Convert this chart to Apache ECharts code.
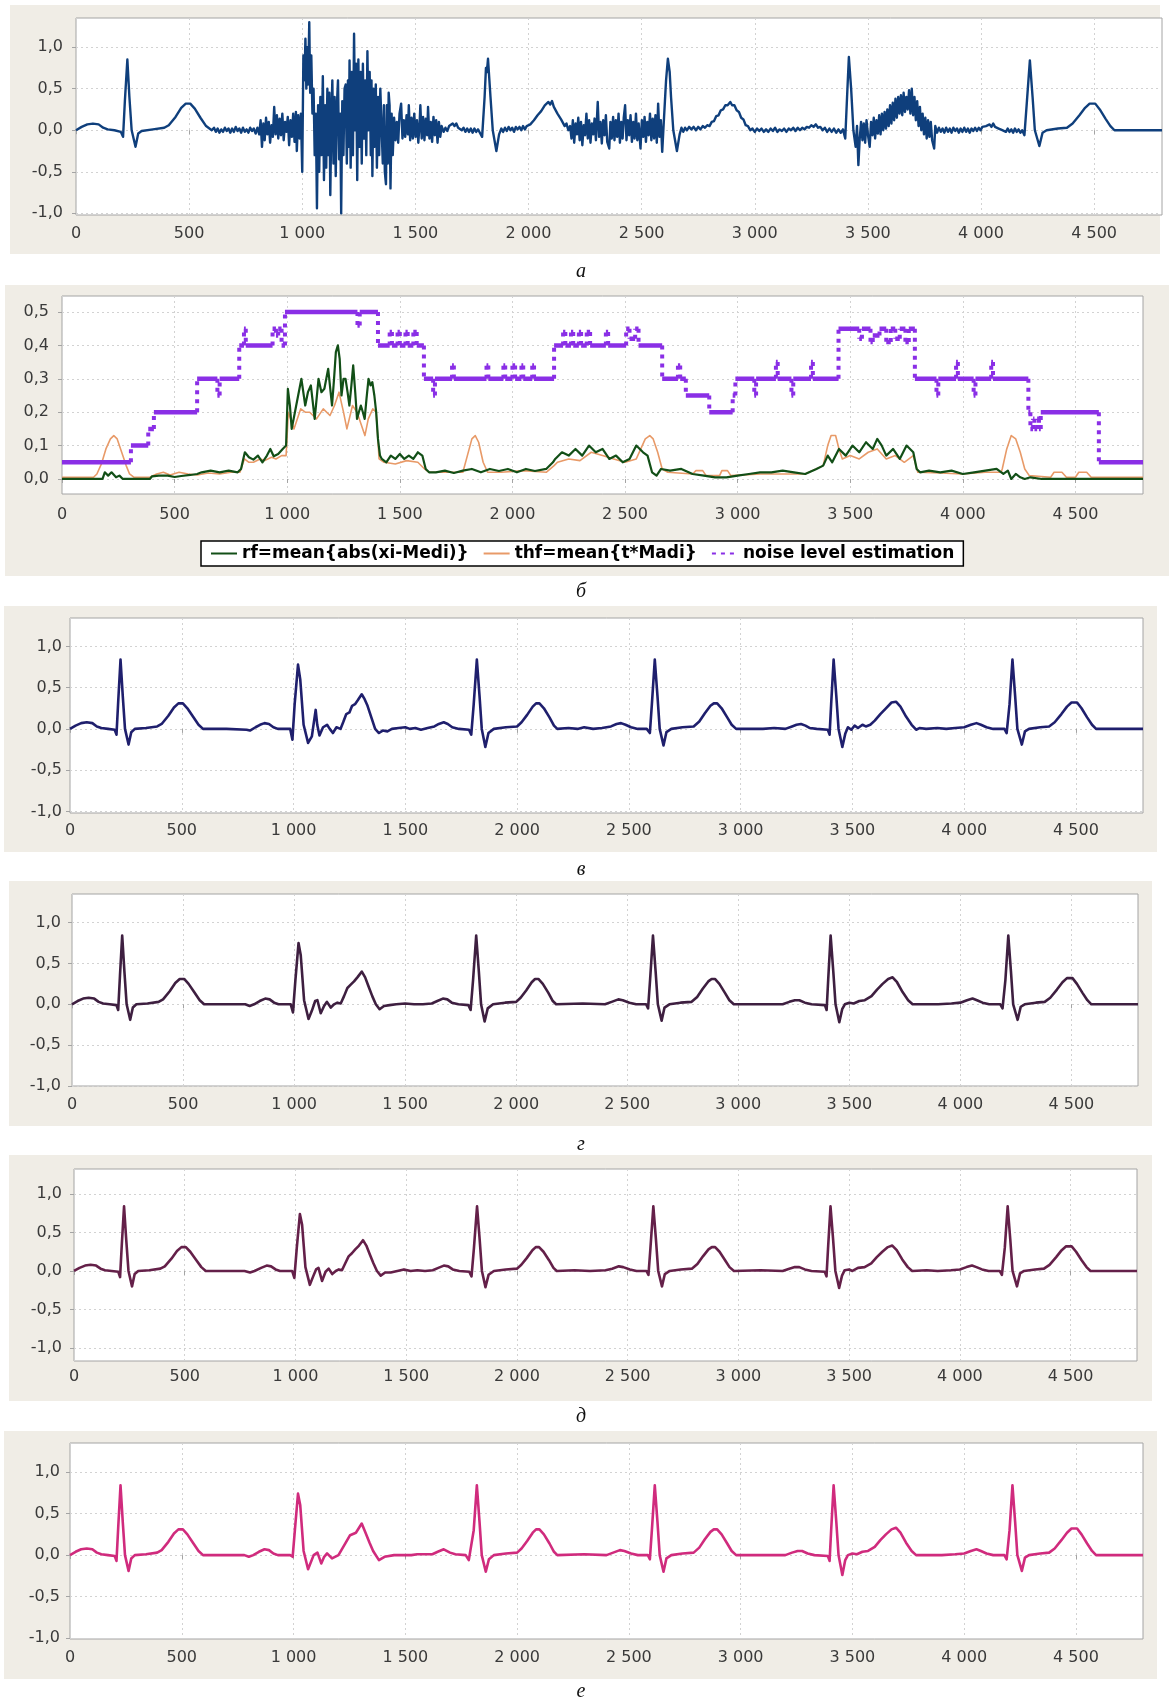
<!DOCTYPE html>
<html>
<head>
<meta charset="utf-8">
<script src="https://cdn.jsdelivr.net/npm/echarts@6/dist/echarts.min.js"></script>
<style>
  html, body { margin: 0; padding: 0; background: #ffffff; }
  #chart { width: 1169px; height: 1704px; }
</style>
</head>
<body>
<div id="chart"></div>
<script>
// ---------- data ----------
const xTickValues = [0, 500, 1000, 1500, 2000, 2500, 3000, 3500, 4000, 4500];
const yTicksSignal = [-1, -0.5, 0, 0.5, 1];
const yTicksLevel = [0, 0.1, 0.2, 0.3, 0.4, 0.5];
const captions = ['а', 'б', 'в', 'г', 'д', 'е'];
const legendNames = ['rf=mean{abs(xi-Medi)}', 'thf=mean{t*Madi}', 'noise level estimation'];

// noisy input signal
const signalA = [
  [0,0],[25,0.04],[50,0.07],[75,0.08],[100,0.07],[120,0.03],[140,0.01],[170,0.0],[198,-0.02],[208,-0.08],[216,0.35],[227,0.85],[236,0.4],[246,0.0],[263,-0.2],[275,-0.04],[290,-0.01],[340,0.01],[390,0.03],[410,0.06],[440,0.16],[465,0.27],[485,0.32],[505,0.32],[525,0.26],[550,0.15],[575,0.05],[600,0.0],
  [610,0.03],[618,-0.02],[626,0.02],[634,-0.03],[642,0.01],[650,-0.02],[658,0.03],[666,-0.01],[674,0.02],[682,-0.03],[690,0.02],[698,-0.02],[706,0.04],[714,-0.01],[722,0.02],[730,-0.03],[738,0.03],[746,-0.02],[754,0.01],[762,-0.03],[770,0.03],[778,-0.01],[786,0.02],[794,-0.04],[802,0.03],[810,-0.05],
  [816,0.12],[822,-0.2],[828,0.08],[834,-0.12],[840,0.15],[846,-0.05],[852,0.1],[858,-0.15],[864,0.06],[870,-0.08],[876,0.28],[882,-0.05],[888,0.18],[894,-0.1],[900,0.14],[906,-0.06],[912,0.2],[918,-0.12],[924,0.1],[930,-0.02],[936,0.16],[942,-0.18],[948,0.12],[954,-0.08],[960,0.2],[966,-0.14],[972,0.22],[976,-0.25],[982,0.18],[988,-0.1],[994,0.2],
  [1000,-0.5],[1005,0.9],[1010,0.6],[1014,1.1],[1018,0.5],[1022,1.0],[1026,0.55],[1031,1.3],[1035,0.45],[1040,0.9],[1045,0.2],[1050,0.5],[1055,-0.3],[1060,0.2],
  [1065,-0.94],[1070,0.3],[1075,-0.5],[1080,0.4],[1085,-0.3],[1091,0.65],[1096,-0.6],[1101,0.3],[1106,-0.45],[1111,0.5],[1116,-0.3],[1120,0.45],[1124,-0.78],[1129,0.2],[1133,0.6],[1138,-0.4],[1143,0.4],[1148,-0.55],[1153,0.3],[1158,0.6],[1163,-0.35],[1168,0.2],[1172,-1.0],[1177,0.35],[1182,-0.3],[1187,0.5],[1192,0.55],[1197,-0.4],[1202,0.6],[1206,-0.2],[1209,0.84],[1214,-0.45],[1219,0.7],[1224,-0.3],[1229,1.16],[1234,0.0],[1238,0.8],[1243,-0.6],[1248,0.85],[1253,-0.2],[1258,0.7],[1263,-0.4],[1268,0.8],[1273,-0.1],[1278,0.6],[1283,-0.3],[1288,0.95],[1293,0.0],[1298,0.7],[1303,-0.3],[1306,0.6],[1310,-0.55],[1315,0.5],[1320,-0.2],[1325,0.55],[1330,-0.45],[1335,0.4],[1340,-0.3],[1345,0.5],[1352,0.5],[1356,-0.4],[1361,0.3],[1365,-0.5],[1370,-0.65],[1374,0.3],[1378,-0.4],[1382,0.45],[1386,0.3],[1390,-0.7],[1395,0.2],[1400,-0.3],
  [1406,0.15],[1412,-0.12],[1418,0.1],[1424,-0.15],[1430,0.2],[1437,0.32],[1443,-0.1],[1449,0.12],[1455,-0.08],[1461,0.18],[1467,-0.05],[1471,0.3],[1477,-0.12],[1483,0.15],[1489,-0.1],[1495,0.2],[1501,-0.08],[1507,0.12],[1513,-0.15],[1519,0.1],[1522,0.3],[1528,-0.1],[1534,0.16],[1540,-0.12],[1546,0.14],[1552,-0.06],[1556,0.28],[1562,-0.1],[1568,0.1],[1574,-0.14],[1580,0.16],[1586,-0.06],[1592,0.12],[1598,-0.15],[1604,0.1],[1610,-0.08],[1616,0.05],
  [1625,-0.02],[1633,0.03],[1641,-0.01],[1649,0.05],[1657,0.03],[1665,0.08],[1673,0.05],[1681,0.08],[1689,0.03],[1697,0.05],[1705,0.0],[1713,0.03],[1721,-0.02],[1729,0.02],[1737,-0.02],[1745,0.02],[1753,-0.03],[1761,0.02],[1769,-0.02],[1777,0.01],[1785,-0.03],
  [1795,-0.08],[1806,0.4],[1812,0.75],[1816,0.7],[1821,0.86],[1832,0.4],[1842,0.0],[1858,-0.25],[1870,-0.05],[1880,0.02],[1888,-0.02],
  [1896,0.03],[1904,-0.01],[1912,0.04],[1920,0.0],[1928,0.03],[1936,-0.02],[1944,0.04],[1952,0.01],[1960,0.04],[1968,0.0],[1976,0.05],[1984,0.01],[1992,0.05],[2000,0.03],[2008,0.07],[2016,0.06],[2024,0.12],[2032,0.12],[2040,0.18],[2048,0.17],[2056,0.23],[2064,0.24],[2072,0.3],[2080,0.29],[2088,0.34],[2096,0.31],[2104,0.35],[2112,0.28],[2120,0.29],[2128,0.2],[2136,0.22],[2144,0.13],[2152,0.14],[2160,0.05],[2168,0.08],[2176,0.0],[2184,0.05],
  [2190,-0.1],[2196,0.12],[2202,-0.15],[2208,0.08],[2214,-0.05],[2220,0.15],[2226,-0.12],[2232,0.1],[2238,-0.18],[2244,0.06],[2250,-0.06],[2256,0.2],[2262,-0.1],[2268,0.12],[2274,-0.15],[2280,0.08],[2286,-0.05],[2292,0.14],[2298,-0.12],[2306,0.34],[2312,-0.08],[2318,0.1],[2324,-0.16],[2330,0.12],[2336,-0.06],[2342,0.18],[2348,-0.14],[2357,-0.22],[2362,0.1],[2368,-0.1],[2374,0.16],[2380,-0.12],[2386,0.12],[2392,-0.08],[2398,0.2],[2404,-0.15],[2410,0.1],[2416,-0.1],[2421,0.15],[2427,0.3],[2433,-0.12],[2439,0.12],[2445,-0.06],[2451,0.18],[2457,-0.14],[2463,0.1],[2469,-0.1],[2475,0.2],[2481,-0.12],[2487,0.08],[2495,-0.22],[2501,0.12],[2507,-0.08],[2513,0.16],[2519,-0.14],[2525,0.1],[2531,-0.06],[2537,0.2],[2543,-0.12],[2549,0.14],[2555,-0.1],[2561,0.18],[2567,-0.15],[2573,0.32],[2579,-0.08],[2585,0.12],[2591,-0.26],[2597,0.05],
  [2603,0.35],[2608,0.6],[2616,0.86],[2624,0.7],[2630,0.4],[2640,0.0],[2656,-0.25],[2668,-0.05],[2676,0.03],[2684,-0.02],
  [2692,0.03],[2700,0.0],[2710,0.04],[2720,0.01],[2730,0.04],[2740,0.0],[2750,0.04],[2760,0.01],[2770,0.05],[2780,0.03],[2790,0.06],[2800,0.05],[2810,0.1],[2820,0.11],[2830,0.17],[2840,0.18],[2850,0.24],[2860,0.25],[2870,0.3],[2880,0.3],[2892,0.34],[2900,0.3],[2910,0.3],[2920,0.24],[2930,0.22],[2940,0.15],[2950,0.13],[2960,0.06],[2970,0.05],[2980,0.0],[2990,0.02],[3000,-0.02],[3010,0.02],[3020,-0.01],[3030,0.02],[3040,-0.02],[3050,0.01],[3060,-0.02],[3070,0.02],[3080,-0.01],[3090,0.03],[3100,-0.02],[3110,0.01],[3120,-0.01],[3130,0.02],[3140,-0.02],[3150,0.02],[3160,0.0],[3170,0.03],[3180,-0.01],[3190,0.03],[3200,0.0],[3210,0.03],[3220,0.01],[3230,0.04],[3240,0.03],[3250,0.06],[3260,0.04],[3270,0.07],[3280,0.03],[3290,0.04],[3300,0.0],[3310,0.03],[3320,-0.02],[3330,0.02],[3340,-0.02],[3350,0.02],[3360,-0.03],[3370,0.01],[3380,-0.03],[3390,0.01],
  [3400,-0.1],[3408,0.4],[3416,0.88],[3426,0.5],[3436,0.0],[3446,-0.2],[3452,0.05],[3458,-0.42],[3464,-0.1],[3470,0.1],
  [3476,-0.12],[3482,0.08],[3488,-0.15],[3494,0.12],[3500,-0.05],[3508,-0.2],[3514,0.1],[3520,-0.06],[3526,0.15],[3532,-0.1],[3538,0.12],[3544,-0.04],[3550,0.18],[3556,-0.05],[3562,0.2],[3568,0.0],[3574,0.22],[3580,0.02],[3586,0.25],[3592,0.05],[3598,0.3],[3604,0.08],[3610,0.33],[3616,0.12],[3622,0.38],[3628,0.15],[3634,0.4],[3640,0.2],[3646,0.42],[3652,0.18],[3658,0.45],[3664,0.22],[3670,0.4],[3676,0.25],[3682,0.48],[3688,0.2],[3694,0.5],[3700,0.18],[3706,0.4],[3712,0.12],[3718,0.35],[3724,0.05],[3730,0.28],[3736,0.0],[3742,0.2],[3748,-0.05],[3754,0.15],[3760,-0.1],[3766,0.12],[3772,-0.08],[3778,0.1],[3784,-0.12],[3793,-0.22],[3798,0.05],
  [3806,-0.03],[3814,0.03],[3822,-0.02],[3830,0.02],[3838,-0.03],[3846,0.03],[3854,-0.02],[3862,0.02],[3870,-0.03],[3878,0.03],[3886,-0.01],[3894,0.02],[3902,-0.03],[3910,0.02],[3918,-0.02],[3926,0.03],[3934,-0.02],[3942,0.02],[3950,-0.03],[3958,0.02],[3966,-0.01],[3974,0.03],[3982,-0.01],[3990,0.03],[3998,0.0],[4006,0.04],[4014,0.02],[4022,0.05],[4030,0.03],[4038,0.07],[4046,0.04],[4054,0.08],[4062,0.04],[4070,0.06],[4078,0.02],[4086,0.04],[4094,0.0],[4102,0.02],[4110,-0.02],[4118,0.02],[4126,-0.02],[4134,0.01],[4142,-0.03],[4150,0.02],[4158,-0.02],[4166,0.01],[4174,-0.03],[4182,0.0],
  [4192,-0.06],[4203,0.35],[4216,0.84],[4228,0.4],[4238,0.0],[4258,-0.19],[4272,-0.03],[4290,0.0],[4340,0.02],[4380,0.03],[4405,0.08],[4435,0.18],[4460,0.27],[4480,0.32],[4505,0.32],[4525,0.25],[4550,0.14],[4572,0.05],[4590,0.0],[4800,0.0]
];

// rf = mean{abs(xi - Medi)}
const rfValues = [
  [0,0.0],[180,0.0],[190,0.02],[205,0.01],[220,0.02],[240,0.005],[255,0.01],[270,0.0],[390,0.0],[400,0.008],[430,0.01],[470,0.01],[500,0.006],[530,0.009],[570,0.012],[600,0.015],[620,0.02],[660,0.025],[700,0.02],[740,0.025],[780,0.02],[795,0.03],[805,0.06],[812,0.08],[830,0.065],[850,0.058],[870,0.07],[890,0.05],[910,0.07],[925,0.09],[940,0.068],[960,0.075],[980,0.09],[995,0.1],
  [1003,0.27],[1012,0.22],[1020,0.15],[1040,0.22],[1063,0.3],[1080,0.22],[1092,0.26],[1105,0.28],[1122,0.18],[1139,0.3],[1152,0.26],[1165,0.27],[1182,0.33],[1199,0.22],[1208,0.3],[1216,0.38],[1225,0.4],[1233,0.36],[1241,0.25],[1250,0.3],[1259,0.3],[1268,0.26],[1276,0.22],[1285,0.28],[1293,0.34],[1302,0.26],[1310,0.18],[1318,0.2],[1327,0.22],[1336,0.2],[1344,0.18],[1352,0.24],[1361,0.3],[1370,0.28],[1378,0.29],[1387,0.25],[1395,0.2],[1403,0.12],[1412,0.07],
  [1420,0.06],[1440,0.05],[1460,0.07],[1480,0.06],[1500,0.075],[1520,0.06],[1540,0.07],[1560,0.06],[1580,0.08],[1600,0.07],[1615,0.03],[1630,0.02],[1660,0.02],[1700,0.025],[1740,0.018],[1780,0.025],[1820,0.03],[1860,0.02],[1900,0.03],[1940,0.024],[1980,0.03],[2020,0.02],[2060,0.03],[2100,0.024],[2150,0.03],[2180,0.05],
  [2190,0.06],[2220,0.08],[2250,0.07],[2280,0.09],[2310,0.07],[2340,0.1],[2370,0.08],[2400,0.09],[2430,0.06],[2460,0.07],[2490,0.05],[2520,0.06],[2550,0.1],[2580,0.08],[2600,0.07],[2620,0.02],[2640,0.01],[2660,0.03],[2700,0.025],[2750,0.03],[2800,0.015],[2850,0.01],[2900,0.005],[2950,0.005],[3000,0.01],[3050,0.015],[3100,0.02],[3150,0.02],[3200,0.025],[3250,0.02],[3300,0.015],[3350,0.03],[3380,0.04],[3400,0.07],[3420,0.05],[3450,0.09],[3480,0.07],[3510,0.1],[3540,0.08],[3570,0.11],[3600,0.09],[3620,0.12],[3640,0.1],[3660,0.07],[3690,0.09],[3720,0.06],[3750,0.1],[3780,0.08],[3795,0.03],[3810,0.02],[3850,0.025],[3900,0.02],[3950,0.025],[4000,0.015],[4050,0.02],[4100,0.025],[4150,0.03],[4180,0.015],[4200,0.025],[4215,0.0],[4235,0.015],[4255,0.005],[4275,0.0],[4300,0.005],[4350,0.0],[4800,0.0]
];

// thf = mean{t*Madi}
const thfValues = [
  [0,0.005],[140,0.005],[155,0.015],[175,0.045],[195,0.09],[215,0.12],[230,0.13],[245,0.12],[265,0.08],[285,0.04],[300,0.015],[320,0.005],[390,0.005],[420,0.015],[450,0.02],[480,0.012],[520,0.02],[560,0.015],[600,0.012],[650,0.018],[700,0.015],[750,0.02],[790,0.02],[810,0.06],[830,0.05],[850,0.05],[880,0.06],[900,0.055],[930,0.065],[950,0.06],[975,0.07],[995,0.07],
  [1005,0.2],[1030,0.15],[1060,0.21],[1080,0.2],[1100,0.2],[1130,0.18],[1160,0.21],[1190,0.19],[1210,0.22],[1230,0.26],[1250,0.2],[1265,0.15],[1290,0.22],[1310,0.2],[1330,0.16],[1345,0.13],[1360,0.18],[1380,0.21],[1395,0.2],[1408,0.06],
  [1430,0.05],[1480,0.045],[1530,0.055],[1580,0.05],[1610,0.03],[1630,0.02],[1700,0.02],[1780,0.02],[1800,0.07],[1820,0.12],[1835,0.13],[1850,0.11],[1870,0.05],[1890,0.02],[1950,0.02],[2050,0.025],[2150,0.02],[2185,0.04],
  [2200,0.05],[2250,0.06],[2300,0.055],[2350,0.08],[2400,0.07],[2450,0.06],[2500,0.05],[2550,0.06],[2570,0.09],[2590,0.12],[2610,0.13],[2625,0.12],[2645,0.08],[2665,0.03],[2690,0.02],[2800,0.015],[2815,0.025],[2845,0.025],[2860,0.01],[2920,0.01],[2930,0.025],[2955,0.025],[2970,0.01],[3100,0.015],[3300,0.015],[3380,0.04],[3400,0.1],[3415,0.13],[3435,0.13],[3450,0.09],[3465,0.06],[3500,0.07],[3540,0.06],[3580,0.08],[3620,0.09],[3660,0.06],[3700,0.07],[3740,0.05],[3780,0.07],[3800,0.02],[3900,0.018],[4000,0.015],[4100,0.02],[4170,0.02],[4175,0.03],[4195,0.09],[4215,0.13],[4235,0.12],[4255,0.08],[4275,0.03],[4295,0.01],[4390,0.005],[4405,0.02],[4440,0.02],[4460,0.005],[4500,0.005],[4515,0.02],[4550,0.02],[4570,0.005],[4800,0.005]
];

// noise level estimation: [from, to, level]
const noiseLevels = [
  [0,306,0.05],[306,383,0.1],[383,408,0.15],[408,600,0.2],[600,690,0.3],[690,700,0.25],[700,787,0.3],
  [787,808,0.4],[808,816,0.45],[816,935,0.4],[935,950,0.45],[950,960,0.43],[960,975,0.45],[975,990,0.4],
  [990,1312,0.5],[1312,1322,0.46],[1322,1403,0.5],
  [1403,1455,0.4],[1455,1465,0.44],[1465,1490,0.4],[1490,1500,0.44],[1500,1525,0.4],[1525,1535,0.44],[1535,1560,0.4],[1560,1575,0.44],[1575,1607,0.4],
  [1607,1648,0.3],[1648,1656,0.25],[1656,1732,0.3],[1732,1740,0.34],[1740,1885,0.3],[1885,1893,0.34],[1893,1960,0.3],[1960,1968,0.34],[1968,2000,0.3],[2000,2012,0.34],[2012,2040,0.3],[2040,2048,0.34],[2048,2088,0.3],[2088,2096,0.34],[2096,2185,0.3],
  [2185,2225,0.4],[2225,2235,0.44],[2235,2260,0.4],[2260,2270,0.44],[2270,2295,0.4],[2295,2305,0.44],[2305,2330,0.4],[2330,2345,0.44],[2345,2415,0.4],[2415,2425,0.44],[2425,2505,0.4],[2505,2520,0.45],[2520,2545,0.42],[2545,2560,0.45],[2560,2665,0.4],
  [2665,2735,0.3],[2735,2745,0.34],[2745,2770,0.3],[2770,2874,0.25],[2874,2978,0.2],[2978,2990,0.25],[2990,3074,0.3],[3074,3082,0.25],[3082,3170,0.3],[3170,3178,0.35],[3178,3239,0.3],[3239,3247,0.25],[3247,3326,0.3],[3326,3334,0.35],[3334,3448,0.3],
  [3448,3540,0.45],[3540,3552,0.42],[3552,3590,0.45],[3590,3600,0.41],[3600,3630,0.43],[3630,3660,0.45],[3660,3680,0.41],[3680,3700,0.45],[3700,3720,0.42],[3720,3745,0.45],[3745,3760,0.41],[3760,3787,0.45],
  [3787,3883,0.3],[3883,3891,0.25],[3891,3970,0.3],[3970,3978,0.35],[3978,4048,0.3],[4048,4056,0.25],[4056,4126,0.3],[4126,4134,0.35],[4134,4291,0.3],
  [4291,4300,0.2],[4300,4312,0.15],[4312,4318,0.18],[4318,4330,0.15],[4330,4338,0.18],[4338,4346,0.15],[4346,4604,0.2],
  [4604,4800,0.05]
];

// filtered signals
const filteredB = [
  [0,0],[25,0.04],[50,0.07],[75,0.08],[100,0.07],[120,0.03],[140,0.01],[170,0.0],[200,-0.01],[208,-0.07],[216,0.35],[226,0.84],[236,0.4],[246,0.0],[262,-0.19],[274,-0.04],[290,0.0],[340,0.01],[390,0.03],[410,0.06],[440,0.16],[465,0.26],[485,0.31],[505,0.31],[525,0.25],[550,0.15],[575,0.05],[595,0.0],
  [700,0.0],[790,-0.01],[805,-0.02],[830,0.02],[850,0.05],[870,0.07],[890,0.06],[910,0.02],[930,0.0],[985,0.0],[995,-0.13],[1005,0.3],[1020,0.78],[1030,0.6],[1045,0.05],[1065,-0.17],[1082,-0.09],[1092,0.1],[1099,0.23],[1106,0.05],[1116,-0.08],[1132,0.02],[1150,0.05],[1162,0.0],[1176,-0.05],[1192,0.02],[1210,0.0],[1222,0.08],[1236,0.18],[1250,0.2],[1262,0.28],[1275,0.3],[1288,0.35],[1305,0.42],[1318,0.36],[1331,0.28],[1348,0.14],[1365,0.0],[1382,-0.05],[1399,-0.02],[1420,-0.03],[1440,0.0],[1470,0.01],[1500,0.02],[1520,0.0],[1545,0.01],[1570,-0.01],[1600,0.01],[1630,0.03],[1650,0.06],[1672,0.08],[1690,0.06],[1710,0.02],[1740,0.0],[1785,-0.01],[1795,-0.07],[1806,0.3],[1820,0.84],[1832,0.4],[1842,0.0],[1858,-0.22],[1872,-0.05],[1896,0.0],[1950,0.02],[2000,0.03],[2020,0.08],[2045,0.17],[2070,0.27],[2085,0.31],[2100,0.31],[2120,0.25],[2145,0.14],[2165,0.04],[2180,0.0],
  [2230,0.01],[2270,0.0],[2300,0.02],[2340,0.0],[2380,0.01],[2420,0.03],[2445,0.06],[2465,0.07],[2485,0.05],[2510,0.02],[2540,0.0],[2580,0.0],[2594,-0.05],[2603,0.3],[2616,0.84],[2628,0.4],[2638,0.0],[2655,-0.2],[2668,-0.04],[2690,0.0],[2740,0.02],[2790,0.03],[2815,0.09],[2840,0.19],[2865,0.28],[2880,0.31],[2895,0.31],[2915,0.25],[2940,0.14],[2960,0.05],[2980,0.0],
  [3100,0.0],[3150,0.01],[3200,0.0],[3230,0.03],[3250,0.05],[3270,0.06],[3290,0.04],[3310,0.01],[3340,0.0],[3390,-0.01],[3398,-0.07],[3405,0.3],[3416,0.84],[3428,0.4],[3438,0.0],[3455,-0.22],[3468,-0.06],[3480,0.02],[3495,-0.01],[3510,0.04],[3525,0.01],[3545,0.05],[3560,0.03],[3580,0.05],[3600,0.1],[3625,0.18],[3650,0.25],[3675,0.32],[3695,0.33],[3715,0.27],[3740,0.15],[3765,0.05],[3785,-0.01],[3800,0.01],[3830,0.0],[3880,0.01],[3920,0.0],[3960,0.01],[4000,0.02],[4030,0.05],[4055,0.07],[4075,0.05],[4100,0.02],[4130,0.0],[4180,0.0],[4190,-0.05],[4203,0.3],[4216,0.84],[4228,0.4],[4238,0.0],[4258,-0.19],[4272,-0.03],[4290,0.0],[4340,0.02],[4380,0.03],[4405,0.08],[4435,0.18],[4460,0.27],[4480,0.32],[4505,0.32],[4525,0.25],[4550,0.14],[4572,0.05],[4590,0.0],[4800,0.0]
];

const filteredC = [
  [0,0],[25,0.04],[50,0.07],[75,0.08],[100,0.07],[120,0.03],[140,0.01],[170,0.0],[200,-0.01],[208,-0.07],[216,0.35],[226,0.84],[236,0.4],[246,0.0],[262,-0.19],[274,-0.04],[290,0.0],[340,0.01],[390,0.03],[410,0.06],[440,0.16],[465,0.26],[485,0.31],[505,0.31],[525,0.25],[550,0.15],[575,0.05],[595,0.0],
  [780,0.0],[800,-0.02],[820,0.0],[845,0.04],[870,0.07],[890,0.06],[910,0.02],[930,0.0],[985,0.0],[995,-0.1],[1006,0.3],[1020,0.75],[1030,0.6],[1045,0.05],[1065,-0.18],[1080,-0.08],[1095,0.04],[1105,0.05],[1120,-0.11],[1135,-0.02],[1148,0.03],[1165,-0.04],[1180,0.0],[1195,0.02],[1210,0.01],[1225,0.1],[1240,0.2],[1255,0.24],[1270,0.28],[1285,0.33],[1305,0.4],[1320,0.33],[1335,0.22],[1352,0.1],[1368,0.0],[1385,-0.06],[1405,-0.02],[1430,-0.01],[1460,0.0],[1500,0.01],[1540,0.0],[1580,0.0],[1620,0.01],[1645,0.04],[1670,0.07],[1690,0.06],[1710,0.02],[1740,0.0],[1785,-0.01],[1795,-0.07],[1806,0.3],[1820,0.84],[1832,0.4],[1842,0.0],[1858,-0.21],[1872,-0.05],[1896,0.0],[1950,0.02],[2000,0.03],[2020,0.08],[2045,0.17],[2070,0.27],[2085,0.31],[2100,0.31],[2120,0.25],[2145,0.14],[2165,0.04],[2180,0.0],
  [2300,0.01],[2400,0.0],[2430,0.03],[2460,0.06],[2480,0.05],[2510,0.02],[2540,0.0],[2585,0.0],[2594,-0.05],[2603,0.3],[2616,0.84],[2628,0.4],[2638,0.0],[2655,-0.2],[2668,-0.04],[2690,0.0],[2740,0.02],[2790,0.03],[2815,0.09],[2840,0.19],[2865,0.28],[2880,0.31],[2895,0.31],[2915,0.25],[2940,0.14],[2960,0.05],[2980,0.0],
  [3200,0.0],[3230,0.03],[3255,0.05],[3275,0.05],[3300,0.02],[3330,0.0],[3390,-0.01],[3398,-0.07],[3405,0.3],[3416,0.84],[3428,0.4],[3438,0.0],[3455,-0.22],[3468,-0.06],[3480,0.0],[3500,0.02],[3520,0.01],[3545,0.04],[3570,0.05],[3600,0.1],[3625,0.18],[3650,0.25],[3675,0.31],[3695,0.33],[3715,0.27],[3740,0.15],[3765,0.05],[3785,0.0],[3900,0.0],[3960,0.01],[4000,0.02],[4030,0.05],[4055,0.07],[4075,0.05],[4100,0.02],[4130,0.0],[4180,0.0],[4190,-0.05],[4203,0.3],[4216,0.84],[4228,0.4],[4238,0.0],[4258,-0.19],[4272,-0.03],[4290,0.0],[4340,0.02],[4380,0.03],[4405,0.08],[4435,0.18],[4460,0.27],[4480,0.32],[4505,0.32],[4525,0.25],[4550,0.14],[4572,0.05],[4590,0.0],[4800,0.0]
];

const filteredD = [
  [0,0],[25,0.04],[50,0.07],[75,0.08],[100,0.07],[120,0.03],[140,0.01],[170,0.0],[200,-0.01],[208,-0.08],[216,0.35],[226,0.84],[236,0.4],[246,0.0],[262,-0.2],[274,-0.04],[290,0.0],[340,0.01],[390,0.03],[410,0.06],[440,0.16],[465,0.26],[485,0.31],[505,0.31],[525,0.25],[550,0.15],[575,0.05],[595,0.0],
  [770,0.0],[795,-0.02],[815,0.0],[845,0.04],[870,0.07],[890,0.06],[910,0.02],[930,0.0],[985,0.0],[995,-0.09],[1006,0.3],[1020,0.74],[1030,0.6],[1045,0.05],[1065,-0.18],[1080,-0.07],[1093,0.02],[1104,0.04],[1120,-0.13],[1136,-0.01],[1150,0.03],[1166,-0.04],[1182,0.0],[1196,0.02],[1210,0.01],[1225,0.1],[1240,0.19],[1255,0.23],[1270,0.28],[1287,0.33],[1305,0.4],[1320,0.33],[1335,0.22],[1352,0.1],[1368,0.0],[1385,-0.06],[1405,-0.02],[1430,-0.02],[1460,0.0],[1490,0.02],[1520,0.0],[1550,0.01],[1585,0.0],[1620,0.01],[1645,0.04],[1670,0.07],[1690,0.06],[1710,0.02],[1740,0.0],[1785,-0.01],[1795,-0.07],[1806,0.3],[1820,0.84],[1832,0.4],[1842,0.0],[1858,-0.21],[1872,-0.05],[1896,0.0],[1950,0.02],[2000,0.03],[2020,0.08],[2045,0.17],[2070,0.27],[2085,0.31],[2100,0.31],[2120,0.25],[2145,0.14],[2165,0.04],[2180,0.0],
  [2260,0.01],[2330,0.0],[2400,0.01],[2430,0.03],[2460,0.06],[2480,0.05],[2510,0.02],[2540,0.0],[2585,0.0],[2594,-0.05],[2603,0.3],[2616,0.84],[2628,0.4],[2638,0.0],[2655,-0.2],[2668,-0.04],[2690,0.0],[2740,0.02],[2790,0.03],[2815,0.09],[2840,0.19],[2865,0.28],[2880,0.31],[2895,0.31],[2915,0.25],[2940,0.14],[2960,0.05],[2980,0.0],
  [3100,0.01],[3200,0.0],[3230,0.03],[3255,0.05],[3275,0.05],[3300,0.02],[3330,0.0],[3390,-0.01],[3398,-0.07],[3405,0.3],[3416,0.84],[3428,0.4],[3438,0.0],[3455,-0.22],[3468,-0.06],[3480,0.01],[3500,0.02],[3515,0.0],[3540,0.04],[3570,0.05],[3600,0.1],[3625,0.18],[3650,0.25],[3675,0.31],[3695,0.33],[3715,0.27],[3740,0.15],[3765,0.05],[3785,0.0],[3850,0.01],[3900,0.0],[3960,0.01],[4000,0.02],[4030,0.05],[4055,0.07],[4075,0.05],[4100,0.02],[4130,0.0],[4180,0.0],[4190,-0.05],[4203,0.3],[4216,0.84],[4228,0.4],[4238,0.0],[4258,-0.2],[4272,-0.03],[4290,0.0],[4340,0.02],[4380,0.03],[4405,0.08],[4435,0.18],[4460,0.27],[4480,0.32],[4505,0.32],[4525,0.25],[4550,0.14],[4572,0.05],[4590,0.0],[4800,0.0]
];

const filteredE = [
  [0,0],[25,0.04],[50,0.07],[75,0.08],[100,0.07],[120,0.03],[140,0.01],[170,0.0],[200,-0.01],[208,-0.07],[216,0.35],[226,0.84],[236,0.4],[246,0.0],[262,-0.19],[274,-0.04],[290,0.0],[340,0.01],[390,0.03],[410,0.06],[440,0.16],[465,0.26],[485,0.31],[505,0.31],[525,0.25],[550,0.15],[575,0.05],[595,0.0],
  [780,0.0],[800,-0.02],[820,0.0],[845,0.04],[870,0.07],[890,0.06],[910,0.02],[930,0.0],[985,0.0],[996,-0.02],[1006,0.3],[1020,0.74],[1030,0.6],[1045,0.05],[1065,-0.17],[1090,0.0],[1107,0.03],[1124,-0.1],[1137,-0.02],[1150,0.02],[1172,-0.04],[1201,0.0],[1227,0.12],[1253,0.24],[1279,0.27],[1305,0.38],[1322,0.27],[1340,0.15],[1356,0.05],[1382,-0.06],[1407,-0.02],[1450,0.0],[1527,0.0],[1553,0.01],[1621,0.01],[1645,0.04],[1672,0.07],[1700,0.03],[1724,0.01],[1770,0.0],[1784,-0.06],[1806,0.3],[1820,0.84],[1832,0.4],[1842,0.0],[1860,-0.2],[1874,-0.05],[1896,0.0],[1950,0.02],[2000,0.03],[2020,0.08],[2045,0.17],[2070,0.27],[2085,0.31],[2100,0.31],[2120,0.25],[2145,0.14],[2165,0.04],[2180,0.0],
  [2300,0.01],[2400,0.0],[2430,0.03],[2460,0.06],[2480,0.05],[2510,0.02],[2540,0.0],[2585,0.0],[2594,-0.05],[2603,0.3],[2616,0.84],[2628,0.4],[2638,0.0],[2655,-0.2],[2668,-0.04],[2690,0.0],[2740,0.02],[2790,0.03],[2815,0.09],[2840,0.19],[2865,0.28],[2880,0.31],[2895,0.31],[2915,0.25],[2940,0.14],[2960,0.05],[2980,0.0],
  [3200,0.0],[3230,0.03],[3255,0.05],[3275,0.05],[3300,0.02],[3330,0.0],[3390,-0.01],[3398,-0.07],[3405,0.3],[3416,0.84],[3428,0.4],[3438,0.0],[3455,-0.24],[3468,-0.06],[3480,0.0],[3500,0.02],[3520,0.01],[3545,0.04],[3570,0.05],[3600,0.1],[3625,0.18],[3650,0.25],[3675,0.31],[3695,0.33],[3715,0.27],[3740,0.15],[3765,0.05],[3785,0.0],[3900,0.0],[3960,0.01],[4000,0.02],[4030,0.05],[4055,0.07],[4075,0.05],[4100,0.02],[4130,0.0],[4180,0.0],[4190,-0.05],[4203,0.3],[4216,0.84],[4228,0.4],[4238,0.0],[4258,-0.19],[4272,-0.03],[4290,0.0],[4340,0.02],[4380,0.03],[4405,0.08],[4435,0.18],[4460,0.27],[4480,0.32],[4505,0.32],[4525,0.25],[4550,0.14],[4572,0.05],[4590,0.0],[4800,0.0]
];

// ---------- layout ----------
const X_MAX = 4800;
const FONT = 'DejaVu Sans';
const panels = [
  { bg: [10, 5, 1150, 249],   grid: { left: 76, top: 18,   width: 1086, height: 197 }, yMin: -1.02,  yMax: 1.35,  ticks: yTicksSignal, yMargin: 13, xMargin: 11, capY: 272 },
  { bg: [5, 285, 1164, 291],  grid: { left: 62, top: 296,  width: 1081, height: 198 }, yMin: -0.045, yMax: 0.548, ticks: yTicksLevel,  yMargin: 13, xMargin: 13, capY: 592 },
  { bg: [4, 606, 1153, 246],  grid: { left: 70, top: 618,  width: 1073, height: 195 }, yMin: -1.02,  yMax: 1.345, ticks: yTicksSignal, yMargin: 8,  xMargin: 10, capY: 870 },
  { bg: [9, 881, 1143, 245],  grid: { left: 72, top: 894,  width: 1066, height: 192 }, yMin: -1.0,   yMax: 1.35,  ticks: yTicksSignal, yMargin: 11, xMargin: 11, capY: 1145 },
  { bg: [9, 1155, 1143, 246], grid: { left: 74, top: 1169, width: 1063, height: 192 }, yMin: -1.17,  yMax: 1.325, ticks: yTicksSignal, yMargin: 12, xMargin: 8,  capY: 1417 },
  { bg: [4, 1431, 1153, 248], grid: { left: 70, top: 1443, width: 1073, height: 196 }, yMin: -1.01,  yMax: 1.35,  ticks: yTicksSignal, yMargin: 10, xMargin: 11, capY: 1692 }
];

const fmtX = v => v >= 1000 ? Math.floor(v / 1000) + ' ' + String(v % 1000).padStart(3, '0') : String(v);
const fmtY = v => v.toFixed(1).replace('.', ',');

const labelStyle = { fontFamily: FONT, fontSize: 16, color: '#3a3a3a' };
const splitStyle = { show: true, lineStyle: { color: '#d2d2d2', type: [2, 3], width: 1 } };

const grids = panels.map(p => Object.assign({
  show: true, backgroundColor: '#ffffff', borderColor: '#a4a4a4', borderWidth: 1, containLabel: false
}, p.grid));

const xAxes = panels.map((p, i) => ({
  type: 'value', gridIndex: i, min: 0, max: X_MAX, interval: 500,
  axisLine: { show: false },
  axisTick: { show: true, length: 4, lineStyle: { color: '#a4a4a4' }, customValues: xTickValues },
  axisLabel: Object.assign({ customValues: xTickValues, margin: p.xMargin, formatter: fmtX }, labelStyle),
  splitLine: splitStyle
}));

const yAxes = panels.map((p, i) => ({
  type: 'value', gridIndex: i, min: p.yMin, max: p.yMax,
  axisLine: { show: false },
  axisTick: { show: true, length: 4, lineStyle: { color: '#a4a4a4' }, customValues: p.ticks },
  axisLabel: Object.assign({ customValues: p.ticks, margin: p.yMargin, formatter: fmtY }, labelStyle),
  splitLine: splitStyle
}));

function lineSeries(name, data, idx, color, width, extra) {
  return Object.assign({
    name: name, type: 'line', data: data, xAxisIndex: idx, yAxisIndex: idx,
    symbol: 'none', showSymbol: false, silent: true,
    lineStyle: { color: color, width: width, join: 'round' },
    itemStyle: { color: color }
  }, extra || {});
}

// step levels: solid horizontal runs, dotted jumps between them
const levelRuns = [];
const levelJumps = [];
noiseLevels.forEach(([x0, x1, v], i) => {
  levelRuns.push([x0, v], [x1, v], [x1, '-']);
  const next = noiseLevels[i + 1];
  if (next) levelJumps.push([x1, v], [x1, next[2]], [x1, '-']);
});

const PURPLE = '#8a2fe6';
const series = [
  lineSeries('input', signalA, 0, '#0f3f7c', 2.4),
  lineSeries(legendNames[2], levelJumps, 1, PURPLE, 4, { lineStyle: { color: PURPLE, width: 4, type: [4, 5], cap: 'butt' }, z: 3 }),
  lineSeries(legendNames[2], levelRuns, 1, PURPLE, 4.5, { lineStyle: { color: PURPLE, width: 4.5, cap: 'butt' }, z: 3 }),
  lineSeries(legendNames[1], thfValues, 1, '#e89a68', 1.6, { z: 2 }),
  lineSeries(legendNames[0], rfValues, 1, '#124f17', 2.2, { z: 2 }),
  lineSeries('filtered-1', filteredB, 2, '#1f1f6d', 2.6),
  lineSeries('filtered-2', filteredC, 3, '#3e1f40', 2.6),
  lineSeries('filtered-3', filteredD, 4, '#642049', 2.6),
  lineSeries('filtered-4', filteredE, 5, '#d02b7d', 2.6)
];

const graphics = [];
panels.forEach((p, i) => {
  graphics.push({
    type: 'rect', z: -10, silent: true,
    shape: { x: p.bg[0], y: p.bg[1], width: p.bg[2], height: p.bg[3] },
    style: { fill: '#f0ede6' }
  });
  graphics.push({
    type: 'text', z: 10, silent: true,
    style: {
      text: captions[i], x: 581, y: p.capY,
      font: 'italic 20px "Liberation Serif", "DejaVu Serif", serif',
      fill: '#111', textAlign: 'center', verticalAlign: 'middle'
    }
  });
});

const chart = echarts.init(document.getElementById('chart'), null, { renderer: 'canvas', width: 1169, height: 1704 });
chart.setOption({
  animation: false,
  backgroundColor: '#ffffff',
  grid: grids,
  xAxis: xAxes,
  yAxis: yAxes,
  legend: {
    data: legendNames,
    left: 201, top: 541,
    orient: 'horizontal',
    padding: [4, 9],
    itemGap: 14, itemWidth: 26, itemHeight: 14,
    borderColor: '#000', borderWidth: 1.5,
    backgroundColor: '#ffffff',
    selectedMode: false,
    // line-only keys: hide the marker drawn on top of each key line
    itemStyle: { color: 'rgba(0,0,0,0)', borderColor: 'rgba(0,0,0,0)', borderWidth: 0 },
    textStyle: { fontFamily: FONT, fontWeight: 'bold', fontSize: 17, color: '#000' }
  },
  graphic: { elements: graphics },
  series: series
});
</script>
</body>
</html>
